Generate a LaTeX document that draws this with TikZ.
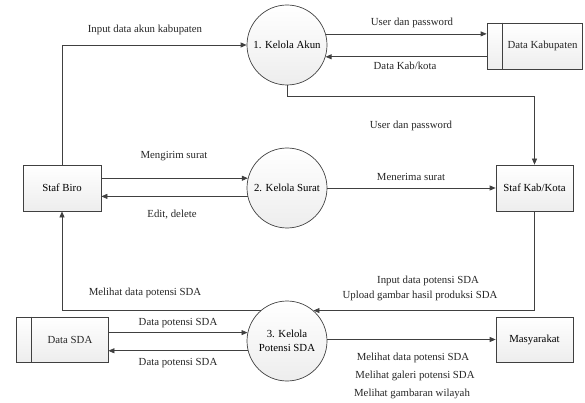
\documentclass[tikz,border=0pt]{standalone}
\usepackage{fontspec}
\setmainfont{Liberation Serif}
\usetikzlibrary{arrows.meta,calc}
\definecolor{edge}{HTML}{404040}
\tikzset{
  x=1pt, y=-1pt,
  proc/.style={circle, draw=edge, line width=0.7pt, minimum size=80pt, inner sep=0pt,
    top color=white, bottom color=gray!14, align=center, font=\fontsize{10.8}{14}\selectfont},
  entity/.style={rectangle, draw=edge, line width=0.7pt, top color=white, bottom color=gray!14,
    font=\fontsize{10.8}{12}\selectfont, inner sep=0pt},
  store/.style={rectangle, draw=edge, line width=0.7pt, top color=white, bottom color=gray!14, inner sep=0pt},
  arr/.style={draw=edge, line width=0.7pt, -{Triangle[length=6pt,width=5pt]}},
  lbl/.style={font=\fontsize{10.8}{12}\selectfont, text=black!85, inner sep=0pt}
}
\begin{document}
\begin{tikzpicture}
\useasboundingbox (0,0) rectangle (585,403);
% processes
\node[proc] (c1) at (287,45) {1. Kelola Akun};
\node[proc] (c2) at (287,188) {2. Kelola Surat};
\node[proc] (c3) at (287,341) {3. Kelola\\Potensi SDA};
% entities
\node[entity, minimum width=78pt, minimum height=46pt] (biro) at (62,188) {Staf Biro};
\node[entity, minimum width=77pt, minimum height=46pt] (kab) at (534.5,188) {Staf Kab/Kota};
\node[entity, minimum width=77pt, minimum height=45pt] (masy) at (534.5,339.5) {Masyarakat};
% data stores
\node[store, minimum width=95pt, minimum height=46pt] (dkab) at (534.5,46) {};
\draw[draw=edge, line width=0.7pt] ($(dkab.north west)+(16,0)$) -- ($(dkab.south west)+(16,0)$);
\node[lbl] (dkabt) at (542.5,46) {Data Kabupaten};
\node[store, minimum width=92pt, minimum height=45pt] (dsda) at (62,339.5) {};
\draw[draw=edge, line width=0.7pt] ($(dsda.north west)+(16,0)$) -- ($(dsda.south west)+(16,0)$);
\node[lbl] (dsdat) at (70,339.5) {Data SDA};
% connectors
\draw[arr] (biro.north) |- (c1.west);
\draw[arr] (c1.16) -- (c1.16 -| dkab.west);
\draw[arr] (c1.-17 -| dkab.west) -- (c1.-17);
\coordinate (k1) at (534.5,96);
\draw[arr] (c1.south) -- (c1.south |- k1) -- (k1) -- (kab.north);
\draw[arr] (c2.166 -| biro.east) -- (c2.166);
\draw[arr] (c2.192) -- (c2.192 -| biro.east);
\draw[arr] (c2.east) -- (kab.west);
\draw[arr] (kab.south) |- (c3.49);
\draw[arr] (c3.131) -| (biro.south);
\draw[arr] (c3.168 -| dsda.east) -- (c3.168);
\draw[arr] (c3.194) -- (c3.194 -| dsda.east);
\draw[arr] (c3.east |- masy.west) -- (masy.west);
% labels
\node[lbl] (l1) at (145,30) {Input data akun kabupaten};
\node[lbl] (l2) at (412,23) {User dan password};
\node[lbl] (l3) at (405,66) {Data Kab/kota};
\node[lbl] (l4) at (411,126) {User dan password};
\node[lbl] (l5) at (174,156) {Mengirim surat};
\node[lbl] (l6) at (172,215) {Edit, delete};
\node[lbl] (l7) at (411,177) {Menerima surat};
\node[lbl] (l8) at (428,281) {Input data potensi SDA};
\node[lbl] (l9) at (420,296) {Upload gambar hasil produksi SDA};
\node[lbl] (l10) at (145,293) {Melihat data potensi SDA};
\node[lbl] (l11) at (178,323) {Data potensi SDA};
\node[lbl] (l12) at (178,363) {Data potensi SDA};
\node[lbl] (l13) at (413,358) {Melihat data potensi SDA};
\node[lbl] (l14) at (415,376) {Melihat galeri potensi SDA};
\node[lbl] (l15) at (412,394) {Melihat gambaran wilayah};
\end{tikzpicture}
\end{document}
